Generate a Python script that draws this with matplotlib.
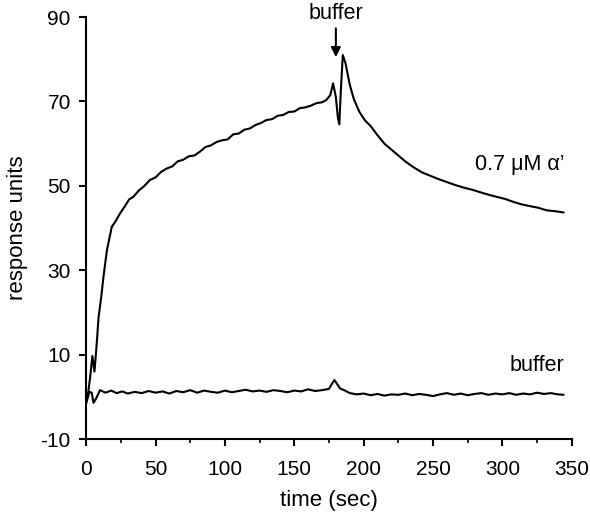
import matplotlib
matplotlib.use("Agg")
import matplotlib.pyplot as plt
from matplotlib.ticker import MultipleLocator

plt.rcParams['font.family'] = ['Liberation Sans', 'DejaVu Sans']
plt.rcParams['axes.unicode_minus'] = False

# 0.7 uM alpha' sensorgram
t_alpha = [0, 1.5, 3, 4.5, 6, 7.5, 9, 11, 12.5, 15,
           18.5, 21, 24.5, 28, 31, 34, 38, 42, 46, 50,
           54, 58, 62, 66, 70, 74, 78, 82, 86, 90,
           94, 98, 102, 106, 110, 114, 118, 122, 126, 130,
           134, 138, 142, 146, 150, 154, 158, 162, 166, 170,
           173, 176, 178, 180, 181.5, 182.5, 183.5, 185, 187, 190,
           193, 197, 201, 205, 210, 215, 220, 225, 230, 236,
           242, 248, 254, 260, 266, 272, 278, 284, 290, 296,
           302, 308, 314, 320, 326, 332, 338, 344]
ru_alpha = [-1.5, 1.0, 5.0, 9.7, 6.0, 12.0, 19.0, 24.0, 28.5, 34.8,
            40.3, 41.5, 43.5, 45.2, 46.8, 47.4, 48.9, 50.0, 51.4, 52.0,
            53.3, 54.1, 54.6, 55.8, 56.2, 57.0, 57.2, 58.1, 59.2, 59.6,
            60.4, 60.8, 61.0, 62.2, 62.4, 63.3, 63.6, 64.4, 64.9, 65.6,
            65.8, 66.6, 66.8, 67.5, 67.6, 68.4, 68.6, 69.0, 69.6, 69.8,
            70.3, 71.5, 74.3, 71.0, 66.0, 64.6, 72.0, 81.0, 79.0, 74.0,
            70.5, 67.5, 65.5, 64.2, 62.0, 60.0, 58.6, 57.2, 55.8, 54.4,
            53.2, 52.4, 51.6, 50.9, 50.2, 49.6, 49.1, 48.5, 47.9, 47.4,
            46.9, 46.2, 45.6, 45.2, 44.8, 44.2, 44.0, 43.7]

# buffer-only sensorgram
t_buf = [0, 2.4, 4, 5.3, 7, 10, 14, 18, 22, 26,
         30, 35, 40, 45, 50, 55, 60, 65, 70, 75,
         80, 85, 90, 95, 100, 105, 110, 115, 120, 125,
         130, 135, 140, 145, 150, 155, 160, 165, 170, 175,
         177, 179, 181, 183, 186, 190, 195, 200, 205, 210,
         215, 220, 225, 230, 235, 240, 245, 250, 255, 260,
         265, 270, 275, 280, 285, 290, 295, 300, 305, 310,
         315, 320, 325, 330, 335, 340, 344]
ru_buf = [-1.5, 1.2, 1.0, -1.4, -0.5, 1.6, 1.0, 1.5, 0.9, 1.3,
          0.8, 1.2, 0.9, 1.4, 1.0, 1.3, 0.8, 1.4, 1.1, 1.6,
          1.0, 1.5, 1.2, 1.0, 1.5, 1.1, 1.4, 1.7, 1.3, 1.5,
          1.2, 1.6, 1.4, 1.1, 1.5, 1.3, 1.8, 1.4, 1.6, 1.9,
          3.0, 4.0, 3.0, 2.0, 1.6, 0.9, 0.6, 0.8, 0.4, 0.7,
          0.3, 0.6, 0.5, 0.8, 0.4, 0.7, 0.5, 0.2, 0.6, 0.9,
          0.5, 0.8, 0.4, 0.7, 0.9, 0.5, 0.8, 0.6, 0.9, 0.5,
          0.8, 0.6, 1.0, 0.7, 0.9, 0.6, 0.5]

fig = plt.figure(figsize=(5.9, 5.16), dpi=100)
ax = fig.add_axes([0.146, 0.149, 0.823, 0.818])

ax.plot(t_alpha, ru_alpha, color='black', lw=1.5)
ax.plot(t_buf, ru_buf, color='black', lw=1.5)

ax.set_xlim(0, 350)
ax.set_ylim(-10, 90)
ax.xaxis.set_major_locator(MultipleLocator(50))
ax.xaxis.set_minor_locator(MultipleLocator(25))
ax.set_yticks([-10, 10, 30, 50, 70, 90])

for s in ['top', 'right']:
    ax.spines[s].set_visible(False)
for s in ['left', 'bottom']:
    ax.spines[s].set_linewidth(1.5)

ax.tick_params(axis='both', which='major', labelsize=15, width=1.5, length=5)
ax.tick_params(axis='x', which='minor', width=1.2, length=3)
ax.tick_params(axis='x', pad=10)
ax.tick_params(axis='y', pad=6)

ax.set_xlabel("time (sec)", fontsize=16, labelpad=8)
ax.set_ylabel("response units", fontsize=16, labelpad=9)

ax.annotate("buffer", xy=(180, 80.5), xytext=(180, 88.3),
            ha='center', va='bottom', fontsize=15.5, annotation_clip=False,
            arrowprops=dict(arrowstyle='-|>', color='black', lw=1.5,
                            mutation_scale=14, shrinkA=1, shrinkB=0))
ax.text(345, 55, "0.7 μM α’", ha='right', va='center', fontsize=15.5)
ax.text(345, 7.5, "buffer", ha='right', va='center', fontsize=15.5)

plt.savefig("out.png", dpi=100)
